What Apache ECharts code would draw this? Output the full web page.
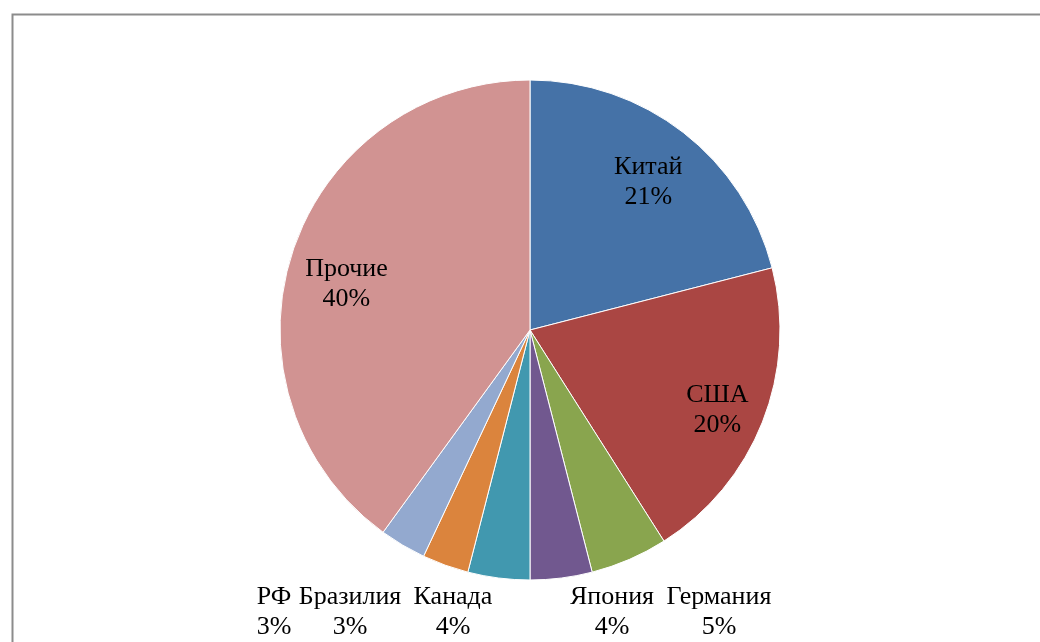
<!DOCTYPE html>
<html>
<head>
<meta charset="utf-8">
<script src="https://cdn.jsdelivr.net/npm/echarts@6/dist/echarts.min.js"></script>
<style>
html,body{margin:0;padding:0;background:#fff;}
#chart{width:1040px;height:642px;}
</style>
</head>
<body>
<div id="chart"></div>
<script>
// Data
const categories = ['Китай', 'США', 'Германия', 'Япония', 'Канада', 'Бразилия', 'РФ', 'Прочие'];
const shares = [21, 20, 5, 4, 4, 3, 3, 40];
const colors = ['#4572A7', '#AA4643', '#89A54E', '#71588F', '#4198AF', '#DB843D', '#93A9CF', '#D19392'];
const insideLabeled = ['Китай', 'США', 'Прочие'];

// Layout for labels
const outerLabelX = { 'Германия': 719, 'Япония': 612, 'Канада': 453, 'Бразилия': 350, 'РФ': 274 };
const outerLabelY = 612;
const innerLabelShift = { 'Китай': [0, 5], 'США': [8, 9], 'Прочие': [0, 14] };

const font = '"Liberation Serif", "Times New Roman", serif';
const CX = 530, CY = 330, R = 250;

const mainData = categories.map((name, i) => ({
  name: name, value: shares[i], itemStyle: { color: colors[i] }
}));

const labelData = categories.map((name, i) => {
  const inside = insideLabeled.indexOf(name) >= 0;
  return {
    name: name,
    value: shares[i],
    label: inside ? { position: 'inner' } : { position: 'outside' },
    labelLine: { show: false }
  };
});

const chart = echarts.init(document.getElementById('chart'), null, { renderer: 'canvas' });
chart.setOption({
  backgroundColor: '#ffffff',
  animation: false,
  graphic: [{
    type: 'rect',
    left: 10, top: 12,
    shape: { width: 1100, height: 700 },
    style: { fill: 'none', stroke: '#8c8c8c', lineWidth: 2 },
    silent: true
  }],
  series: [
    {
      type: 'pie',
      center: [CX, CY],
      radius: R,
      startAngle: 90,
      clockwise: true,
      silent: true,
      percentPrecision: 0,
      itemStyle: { borderColor: '#ffffff', borderWidth: 1 },
      label: { show: false },
      labelLine: { show: false },
      emphasis: { disabled: true },
      data: mainData
    },
    {
      type: 'pie',
      center: [CX, CY],
      radius: [130, R],
      startAngle: 90,
      clockwise: true,
      silent: true,
      z: 3,
      percentPrecision: 0,
      itemStyle: { color: 'rgba(0,0,0,0)', borderWidth: 0 },
      emphasis: { disabled: true },
      label: {
        show: true,
        formatter: '{b}\n{d}%',
        color: '#000',
        fontFamily: font,
        fontSize: 26,
        lineHeight: 30,
        align: 'center'
      },
      labelLine: { show: false },
      labelLayout: function (params) {
        const name = categories[params.dataIndex];
        if (outerLabelX[name] !== undefined) {
          return { x: outerLabelX[name], y: outerLabelY, align: 'center', verticalAlign: 'middle' };
        }
        const s = innerLabelShift[name];
        if (s) {
          return { dx: s[0], dy: s[1] };
        }
        return {};
      },
      data: labelData
    }
  ]
});
</script>
</body>
</html>
